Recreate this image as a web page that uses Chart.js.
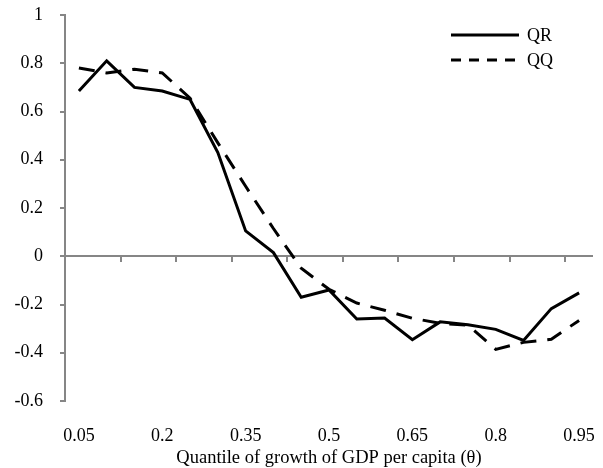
<!DOCTYPE html>
<html>
<head>
<meta charset="utf-8">
<script src="https://cdn.jsdelivr.net/npm/chart.js@4.4.1/dist/chart.umd.min.js"></script>
<style>
  html, body { margin: 0; padding: 0; background: #fff; }
</style>
</head>
<body>
<canvas id="quantile-chart" width="603" height="468"></canvas>
<script>
// quantiles of GDP per capita growth
const quantiles = ['0.05', '0.1', '0.15', '0.2', '0.25', '0.3', '0.35', '0.4', '0.45', '0.5',
                   '0.55', '0.6', '0.65', '0.7', '0.75', '0.8', '0.85', '0.9', '0.95'];
// quantile regression estimates
const qrValues = [0.685, 0.81, 0.70, 0.685, 0.65, 0.43, 0.105, 0.015, -0.17, -0.14,
                  -0.26, -0.256, -0.346, -0.272, -0.284, -0.303, -0.349, -0.217, -0.152];
// quantile-on-quantile estimates
const qqValues = [0.78, 0.76, 0.775, 0.76, 0.655, 0.47, 0.29, 0.115, -0.05, -0.137,
                  -0.194, -0.224, -0.257, -0.278, -0.286, -0.386, -0.357, -0.344, -0.266];
// only every third quantile gets a label
const xTickLabels = ['0.05', '0.2', '0.35', '0.5', '0.65', '0.8', '0.95'];

const axisGray = '#868686';
const serif = '"Liberation Serif", "Times New Roman", serif';
Chart.defaults.color = '#000';
Chart.defaults.font.family = serif;
Chart.defaults.font.size = 18;

// horizontal axis sits on y = 0, with a tick every second category
const zeroAxis = {
  id: 'zeroAxis',
  beforeDatasetsDraw(chart) {
    const {ctx, chartArea, scales} = chart;
    const y0 = Math.round(scales.y.getPixelForValue(0));
    const x = scales.x;
    const step = (x.getPixelForValue(1) - x.getPixelForValue(0));
    ctx.save();
    ctx.strokeStyle = axisGray;
    ctx.lineWidth = 2;
    ctx.beginPath();
    ctx.moveTo(chartArea.left, y0);
    ctx.lineTo(chartArea.right, y0);
    for (let i = 2; i < quantiles.length; i += 2) {
      const px = Math.round(x.getPixelForValue(0) - step / 2 + i * step);
      ctx.moveTo(px, y0);
      ctx.lineTo(px, y0 + 6);
    }
    ctx.stroke();
    ctx.restore();
  }
};

// small legend in the upper right corner
const cornerLegend = {
  id: 'cornerLegend',
  afterDraw(chart) {
    const {ctx, chartArea} = chart;
    const x1 = chartArea.right - 142;
    const x2 = chartArea.right - 74;
    ctx.save();
    ctx.font = '18px ' + serif;
    ctx.fillStyle = '#000';
    ctx.textBaseline = 'middle';
    chart.data.datasets.forEach((ds, i) => {
      const y = chartArea.top + 20 + i * 25;
      ctx.strokeStyle = ds.borderColor;
      ctx.lineWidth = ds.borderWidth;
      ctx.setLineDash(ds.borderDash.length ? [10, 8] : []);
      ctx.beginPath();
      ctx.moveTo(x1, y);
      ctx.lineTo(ds.borderDash.length ? x2 - 4 : x2, y);
      ctx.stroke();
      ctx.fillText(ds.label, x2 + 8, y + 1);
    });
    ctx.restore();
  }
};

new Chart(document.getElementById('quantile-chart'), {
  type: 'line',
  data: {
    labels: quantiles,
    datasets: [
      {
        label: 'QR',
        data: qrValues,
        borderColor: '#000',
        borderWidth: 3,
        borderDash: [],
        pointRadius: 0,
        tension: 0,
        fill: false
      },
      {
        label: 'QQ',
        data: qqValues,
        borderColor: '#000',
        borderWidth: 3,
        borderDash: [16, 11],
        pointRadius: 0,
        tension: 0,
        fill: false
      }
    ]
  },
  options: {
    responsive: false,
    animation: false,
    devicePixelRatio: 1,
    layout: { padding: { left: 0, right: 10, top: 15, bottom: 0 } },
    plugins: {
      legend: { display: false },
      tooltip: { enabled: false }
    },
    scales: {
      x: {
        type: 'category',
        offset: true,
        grid: { display: false },
        border: { display: false },
        ticks: {
          autoSkip: false,
          maxRotation: 0,
          padding: 16,
          callback: function (value, index) {
            const lab = quantiles[index];
            return xTickLabels.includes(lab) ? lab : '';
          }
        },
        title: {
          display: true,
          text: 'Quantile of growth of GDP per capita (θ)',
          font: { size: 18.5 },
          padding: { top: 0, bottom: -1 }
        },
        afterFit: (scale) => {
          scale.height = 67;
          scale.paddingLeft = 0;
          scale.paddingRight = 0;
        }
      },
      y: {
        min: -0.6,
        max: 1,
        ticks: {
          stepSize: 0.2,
          padding: 17,
          callback: (v) => String(parseFloat(v.toFixed(1)))
        },
        grid: {
          drawOnChartArea: false,
          tickLength: 5,
          color: axisGray,
          lineWidth: 2
        },
        border: { color: axisGray, width: 2 },
        afterFit: (scale) => {
          scale.width = 65;
          scale.paddingTop = 0;
          scale.paddingBottom = 0;
        }
      }
    }
  },
  plugins: [zeroAxis, cornerLegend]
});
</script>
</body>
</html>
